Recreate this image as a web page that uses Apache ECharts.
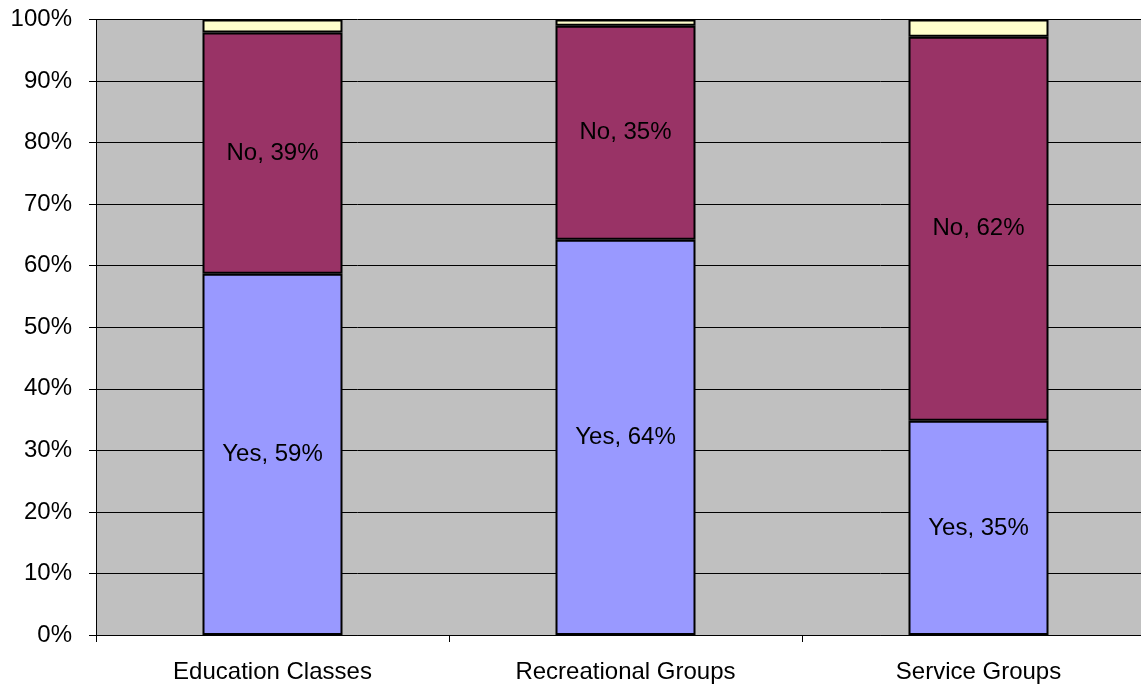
<!DOCTYPE html>
<html>
<head>
<meta charset="utf-8">
<script src="https://cdn.jsdelivr.net/npm/echarts@6/dist/echarts.min.js"></script>
<style>
  html, body { margin: 0; padding: 0; background: #fff; }
  #chart { width: 1141px; height: 687px; }
</style>
</head>
<body>
<div id="chart"></div>
<script>
// categories and stacked shares (percent)
var categories = ["Education Classes", "Recreational Groups", "Service Groups"];
var yesValues = [58.7, 64.2, 34.8];
var noValues = [39.2, 34.8, 62.4];
var otherValues = [2.1, 1.0, 2.8];

window.onload = function () {
  var chart = echarts.init(document.getElementById("chart"));
  var font = "Liberation Sans, Arial, sans-serif";
  var labelStyle = function (name) {
    return {
      show: true,
      position: "inside",
      color: "#000",
      fontSize: 24,
      fontFamily: font,
      formatter: function (p) {
        return name + ", " + Math.round(p.value) + "%";
      }
    };
  };
  var option = {
    animation: false,
    grid: {
      left: 96,
      width: 1059, //绘图区右侧超出画布
      top: 19.5,
      bottom: 52,
      outerBoundsMode: "none",
      show: true,
      backgroundColor: "#C0C0C0",
      borderWidth: 0
    },
    xAxis: {
      type: "category",
      data: categories,
      axisLine: { show: true, lineStyle: { color: "#000", width: 1 } },
      axisTick: { show: true, alignWithLabel: false, length: 7, lineStyle: { color: "#000" } },
      axisLabel: { color: "#000", fontSize: 24, fontFamily: font, margin: 25 }
    },
    yAxis: {
      type: "value",
      min: 0,
      max: 100,
      interval: 10,
      axisLine: { show: true, lineStyle: { color: "#000", width: 1 } },
      axisTick: { show: true, length: 7, lineStyle: { color: "#000" } },
      axisLabel: {
        color: "#000",
        fontSize: 24,
        fontFamily: font,
        margin: 24,
        formatter: "{value}%"
      },
      splitLine: { show: true, lineStyle: { color: "#000", width: 1 } }
    },
    series: [
      {
        name: "Yes",
        type: "bar",
        stack: "total",
        barWidth: 140,
        data: yesValues,
        itemStyle: { color: "#9999FF", borderColor: "#000", borderWidth: 2 },
        label: labelStyle("Yes")
      },
      {
        name: "No",
        type: "bar",
        stack: "total",
        data: noValues,
        itemStyle: { color: "#993366", borderColor: "#000", borderWidth: 2 },
        label: labelStyle("No")
      },
      {
        name: "Other",
        type: "bar",
        stack: "total",
        data: otherValues,
        itemStyle: { color: "#FFFFCC", borderColor: "#000", borderWidth: 2 },
        label: { show: false }
      }
    ]
  };
  chart.setOption(option);
};
</script>
</body>
</html>
